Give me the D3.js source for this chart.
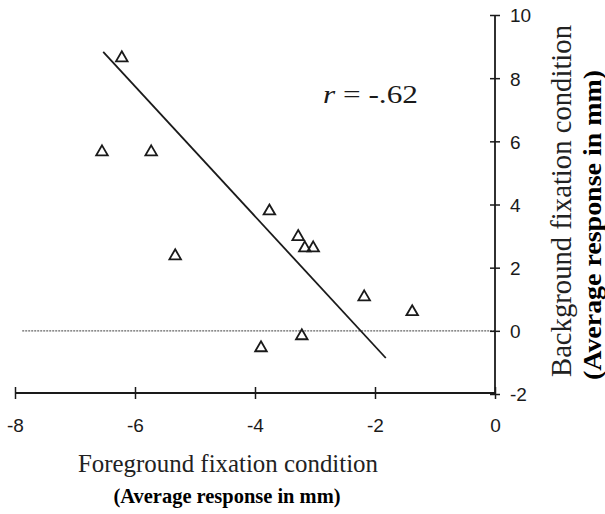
<!DOCTYPE html>
<html>
<head>
<meta charset="utf-8">
<script src="https://cdn.jsdelivr.net/npm/d3@7"></script>
<style>
  html, body { margin: 0; padding: 0; background: #fff; }
  svg { display: block; }
</style>
</head>
<body>
<svg id="chart" width="605" height="514"></svg>
<script>
// ---- data ----
const foreground = [-6.22, -6.55, -5.73, -3.76, -3.28, -3.17, -3.03, -5.33, -3.90, -3.22, -2.18, -1.38];
const background = [8.64, 5.66, 5.66, 3.79, 2.98, 2.62, 2.62, 2.37, -0.54, -0.16, 1.07, 0.60];
const fitX = [-6.53, -1.82];
const fitY = [8.83, -0.86];
const xTicks = [-8, -6, -4, -2, 0];
const yTicks = [-2, 0, 2, 4, 6, 8, 10];
const xDomain = [-8, 0];
const yDomain = [-2, 10];
const zeroLineX = [-7.88, 0];
const rLabel = "-.62";
const xTitle = "Foreground fixation condition";
const yTitle = "Background fixation condition";
const unitTitle = "(Average response in mm)";

const svg = d3.select("#chart");
const x = d3.scaleLinear().domain(xDomain).range([15, 495]);
const y = d3.scaleLinear().domain(yDomain).range([394, 15]);
const ink = "#1a1a1a";
const serif = "Liberation Serif";
const sans = "Liberation Sans";

// dotted zero line
svg.append("line")
  .attr("x1", x(zeroLineX[0])).attr("x2", x(zeroLineX[1]))
  .attr("y1", y(0)).attr("y2", y(0))
  .attr("stroke", "#666").attr("stroke-width", 1.2)
  .attr("stroke-dasharray", "2,1");

// x axis (ticks crossing the line)
const xAxis = svg.append("g").attr("transform", `translate(0,${y(-2) - 1})`)
  .call(d3.axisBottom(x).tickValues(xTicks).tickSize(0).tickFormat(""));
xAxis.select(".domain").attr("stroke", ink).attr("stroke-width", 1.8).attr("d", `M${x(-8)},0H${x(0)}`);
xAxis.selectAll(".tick").append("line").attr("y1", -6).attr("y2", 6).attr("stroke", ink).attr("stroke-width", 1.5);
xAxis.selectAll(".tick").append("text")
  .attr("y", 39).attr("fill", ink)
  .attr("font-family", sans).attr("font-size", 19)
  .attr("text-anchor", "middle")
  .text(d => d);

// y axis on the right
const yAxis = svg.append("g").attr("transform", `translate(${x(0)},0)`)
  .call(d3.axisRight(y).tickValues(yTicks).tickSize(0).tickFormat(""));
yAxis.select(".domain").attr("stroke", ink).attr("stroke-width", 1.8).attr("d", `M0,${y(10)}V${y(-2)}`);
yAxis.selectAll(".tick").append("line").attr("x1", -5).attr("x2", 5).attr("stroke", ink).attr("stroke-width", 1.5);
yAxis.selectAll(".tick").append("text")
  .attr("x", 15).attr("dy", "0.36em").attr("fill", ink)
  .attr("font-family", sans).attr("font-size", 19)
  .attr("text-anchor", "start")
  .text(d => d);

// regression line
svg.append("line")
  .attr("x1", x(fitX[0])).attr("y1", y(fitY[0]))
  .attr("x2", x(fitX[1])).attr("y2", y(fitY[1]))
  .attr("stroke", ink).attr("stroke-width", 1.8);

// points: open triangles
const tri = d3.symbol().type(d3.symbolTriangle).size(58);
svg.append("g").selectAll("path")
  .data(foreground.map((v, i) => [v, background[i]]))
  .join("path")
  .attr("d", tri)
  .attr("transform", d => `translate(${x(d[0])},${y(d[1])})`)
  .attr("fill", "none").attr("stroke", ink).attr("stroke-width", 1.8);

// r label
const rt = svg.append("text")
  .attr("x", 323).attr("y", 103).attr("fill", ink)
  .attr("font-family", serif).attr("font-size", 26)
  .attr("textLength", 95).attr("lengthAdjust", "spacingAndGlyphs");
rt.append("tspan").attr("font-style", "italic").text("r");
rt.append("tspan").text(" = " + rLabel);

// x titles
svg.append("text")
  .attr("x", 228).attr("y", 472).attr("text-anchor", "middle").attr("fill", "#222")
  .attr("font-family", serif).attr("font-size", 26)
  .attr("textLength", 300).attr("lengthAdjust", "spacingAndGlyphs")
  .text(xTitle);
svg.append("text")
  .attr("x", 227).attr("y", 503).attr("text-anchor", "middle").attr("fill", "#000")
  .attr("font-family", serif).attr("font-size", 22).attr("font-weight", "bold")
  .attr("textLength", 227).attr("lengthAdjust", "spacingAndGlyphs")
  .text(unitTitle);

// y titles (rotated)
svg.append("text")
  .attr("transform", "translate(571,201) rotate(-90)")
  .attr("text-anchor", "middle").attr("fill", "#222")
  .attr("font-family", serif).attr("font-size", 30)
  .attr("textLength", 352).attr("lengthAdjust", "spacingAndGlyphs")
  .text(yTitle);
svg.append("text")
  .attr("transform", "translate(601,225) rotate(-90)")
  .attr("text-anchor", "middle").attr("fill", "#000")
  .attr("font-family", serif).attr("font-size", 25).attr("font-weight", "bold")
  .attr("textLength", 310).attr("lengthAdjust", "spacingAndGlyphs")
  .text(unitTitle);
</script>
</body>
</html>
